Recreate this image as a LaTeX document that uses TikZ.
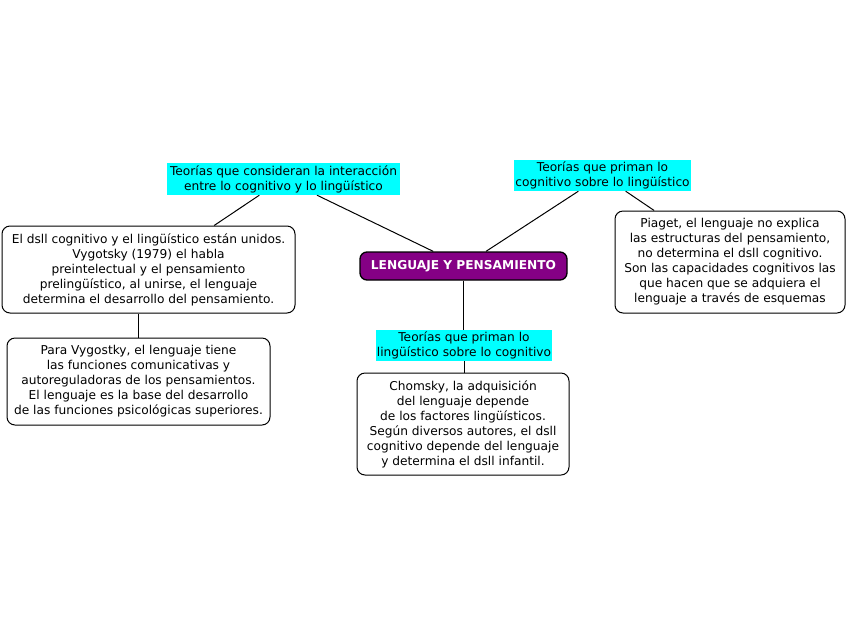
\documentclass[tikz,border=0pt]{standalone}
\usepackage{fontspec}
\setmainfont{DejaVu Sans}
\definecolor{mapcyan}{HTML}{00FFFF}
\definecolor{mappurple}{HTML}{850085}
\tikzset{
    tema/.style={draw=black,line width=1.3pt,rounded corners=7pt,fill=mappurple,text=white,font=\bfseries\fontsize{12.2}{15}\selectfont,align=center,inner sep=0pt},
    teoria/.style={fill=mapcyan,align=center,inner sep=0pt,font=\fontsize{12.2}{15}\selectfont},
    texto/.style={draw=black,line width=1pt,rounded corners=8pt,fill=white,align=center,inner sep=0pt,font=\fontsize{12.2}{15}\selectfont},
    enlace/.style={line width=1pt}
}
\begin{document}
\begin{tikzpicture}[x=1pt,y=-1pt]
        \useasboundingbox (0,0) rectangle (848,638);
        %% Central
        \node[tema,minimum width=207pt,minimum height=28pt] (centro) at (463.5,266) {LENGUAJE Y PENSAMIENTO};
        %% Teorias
        \node[teoria,minimum width=233pt,minimum height=32pt] (interaccion) at (283.5,179) {Teorías que consideran la interacción\\entre lo cognitivo y lo lingüístico};
        \node[teoria,minimum width=177pt,minimum height=31pt] (cognitivo) at (602.5,175.5) {Teorías que priman lo\\cognitivo sobre lo lingüístico};
        \node[teoria,minimum width=176pt,minimum height=31pt] (linguistico) at (464,345.5) {Teorías que priman lo\\lingüístico sobre lo cognitivo};
        %% Explicaciones
        \node[texto,minimum width=293pt,minimum height=87pt] (unidos) at (148.5,269.5) {El dsll cognitivo y el lingüístico están unidos.\\Vygotsky (1979) el habla\\preintelectual y el pensamiento\\prelingüístico, al unirse, el lenguaje\\determina el desarrollo del pensamiento.};
        \node[texto,minimum width=263pt,minimum height=87pt] (vygotsky) at (138.5,381.5) {Para Vygostky, el lenguaje tiene\\las funciones comunicativas y\\autoreguladoras de los pensamientos.\\El lenguaje es la base del desarrollo\\de las funciones psicológicas superiores.};
        \node[texto,minimum width=230pt,minimum height=102pt] (piaget) at (730,262) {Piaget, el lenguaje no explica\\las estructuras del pensamiento,\\no determina el dsll cognitivo.\\Son las capacidades cognitivos las\\que hacen que se adquiera el\\lenguaje a través de esquemas};
        \node[texto,minimum width=212pt,minimum height=102pt] (chomsky) at (463,424) {Chomsky, la adquisición\\del lenguaje depende\\de los factores lingüísticos.\\Según diversos autores, el dsll\\cognitivo depende del lenguaje\\y determina el dsll infantil.};
        %% Enlaces
        \draw[enlace] (centro) -- (interaccion);
        \draw[enlace] (interaccion) -- (unidos);
        \draw[enlace] (centro) -- (cognitivo);
        \draw[enlace] (cognitivo) -- (piaget);
        \draw[enlace] (centro.south) -- (centro.south |- linguistico.north);
        \draw[enlace] (linguistico.south) -- (linguistico.south |- chomsky.north);
        \draw[enlace] (vygotsky.north) -- (vygotsky.north |- unidos.south);
    \end{tikzpicture}
\end{document}
